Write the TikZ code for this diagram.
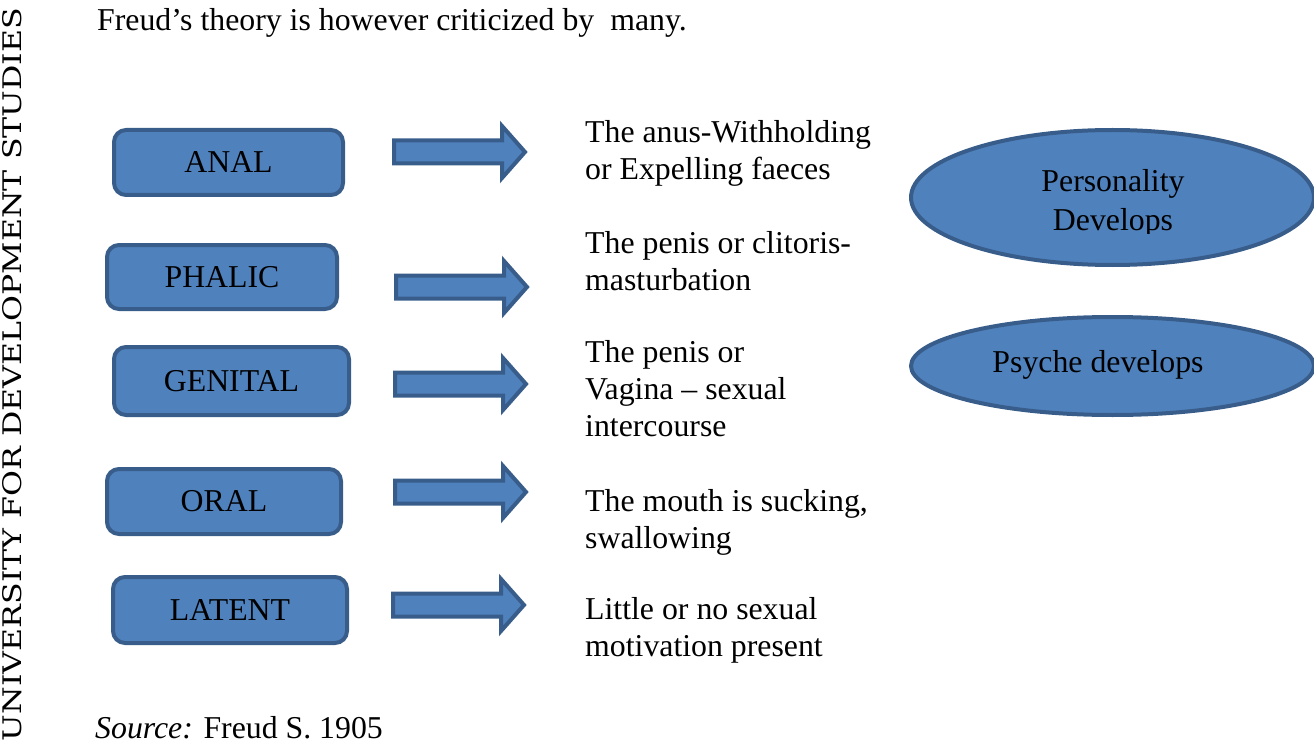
\documentclass[tikz,border=0pt]{standalone}
\usepackage{graphicx}
\usepackage{fontspec}
\setmainfont{Liberation Serif}
\newfontfamily\udsfont{DejaVu Serif}
\usetikzlibrary{shapes.geometric}
\definecolor{fillblue}{HTML}{4F81BD}
\definecolor{edgeblue}{HTML}{385D8A}
\newcommand{\mybig}{\fontsize{31.8}{36.8}\selectfont}
\tikzset{
  stagebox/.style={draw=edgeblue, fill=fillblue, line width=4pt, rounded corners=12pt, inner sep=0pt, font=\mybig},
  oval/.style={ellipse, draw=edgeblue, fill=fillblue, line width=4pt, inner sep=0pt},
  arrowbody/.style={draw=edgeblue, fill=fillblue, line width=4pt, line join=miter},
  desc/.style={anchor=north west, inner sep=0pt, align=left, font=\mybig},
  plain/.style={inner sep=0pt, font=\mybig},
  blockarrow/.pic={\path[arrowbody] (2,-11.5) -- (110,-11.5) -- (110,-26) -- (133,0) -- (110,26) -- (110,11.5) -- (2,11.5) -- cycle;}
}
\begin{document}
\begin{tikzpicture}[x=1pt,y=-1pt]
\useasboundingbox (0,0) rectangle (1314,746);

% side banner
\node[rotate=90, inner sep=0pt] (uds) at (12,374.5) {\resizebox{733pt}{19pt}{\udsfont UNIVERSITY FOR DEVELOPMENT STUDIES}};

% heading and source
\node[plain, anchor=base west] (head) at (97,31) {Freud’s theory is however criticized by\ \ many.};
\node[plain, anchor=base west] (src) at (95,738) {\textit{Source:} Freud S. 1905};

% stage boxes
\node[stagebox, minimum width=229, minimum height=65] (anal) at (228.5,162.5) {ANAL};
\node[stagebox, minimum width=230, minimum height=64] (phalic) at (222,277) {PHALIC};
\node[stagebox, minimum width=235, minimum height=68] (genital) at (231.5,381) {GENITAL};
\node[stagebox, minimum width=234, minimum height=65] (oral) at (224,501.5) {ORAL};
\node[stagebox, minimum width=234, minimum height=66] (latent) at (230,610) {LATENT};

% block arrows
\pic at (392,152) {blockarrow};
\pic at (394,287) {blockarrow};
\pic at (393,384) {blockarrow};
\pic at (393,492) {blockarrow};
\pic at (391,605) {blockarrow};

% descriptions
\node[desc] (d1) at (585,120.3) {The anus-Withholding\\or Expelling faeces};
\node[desc] (d2) at (585,231.3) {The penis or clitoris-\\masturbation};
\node[desc] (d3) at (585,340.3) {The penis or\\Vagina – sexual\\intercourse};
\node[desc] (d4) at (585,489.3) {The mouth is sucking,\\swallowing};
\node[desc] (d5) at (585,597.3) {Little or no sexual\\motivation present};

% ellipses
\node[oval, minimum width=403, minimum height=135] (pers) at (1112.5,197.5) {};
\begin{scope}
\clip (900,120) rectangle (1320,233.5);
\node[plain, anchor=base] (perstext) at (1113,192) {Personality};
\node[plain, anchor=base] (devtext) at (1113,230) {Develops};
\end{scope}
\node[oval, minimum width=403, minimum height=98] (psy) at (1112.5,366) {};
\node[plain, anchor=base] (psytext) at (1098,372) {Psyche develops};
\end{tikzpicture}
\end{document}
